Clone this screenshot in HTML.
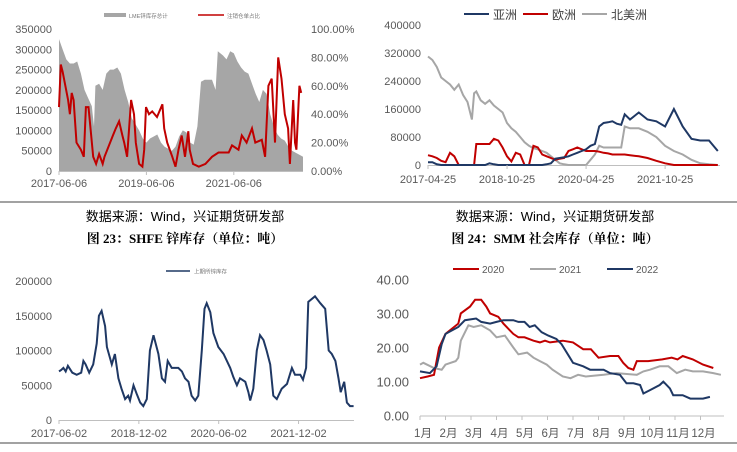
<!DOCTYPE html>
<html><head><meta charset="utf-8"><style>
body{margin:0;background:#fff;width:737px;height:447px;overflow:hidden;font-family:"Liberation Sans","Noto Sans CJK SC",sans-serif}
svg text{font-family:"Liberation Sans","Noto Sans CJK SC",sans-serif}
svg text.ttl{font-family:"Liberation Serif","Noto Serif CJK SC","Noto Sans CJK SC",serif}
</style></head><body>
<svg id="s" width="737" height="447">
<line x1="0" y1="202" x2="737" y2="202" stroke="#444" stroke-width="1"/>
<line x1="0" y1="443" x2="737" y2="443" stroke="#444" stroke-width="1"/>
<text x="185" y="221" text-anchor="middle" font-size="13" fill="#000">数据来源：Wind，兴证期货研发部</text>
<text x="555" y="221" text-anchor="middle" font-size="13" fill="#000">数据来源：Wind，兴证期货研发部</text>
<text class="ttl" x="185" y="243" text-anchor="middle" font-size="13" font-weight="bold" fill="#000">图 23：SHFE 锌库存（单位：吨）</text>
<text class="ttl" x="555" y="243" text-anchor="middle" font-size="13" font-weight="bold" fill="#000">图 24：SMM 社会库存（单位：吨）</text>
</svg>
<script>
// ---------- Chart 1: LME total (area) + cancelled warrant ratio ----------
const c1AreaMonths=[0,1,2,3,4,5,6,7,8,9,9.6,10,11,12,13,14,15,16,17,18,19,20,21,22,23,24,25,26,27,28,29,30,31,32,33,34,35,36,37,38,39,40,41,42,43,43.6,45,46,47,48,49,50,51,52,53,54,55,56,57,58,59,60,61,62,63,64,65,66,67];
const c1AreaValues=[325,300,275,265,265,270,240,200,180,160,110,210,215,200,240,250,250,255,240,200,170,130,115,100,80,70,80,85,90,70,60,55,50,60,85,100,95,70,65,110,220,225,225,225,200,295,285,275,295,290,270,255,245,240,215,190,170,200,190,140,110,90,80,75,60,50,45,40,35];
const c1RedMonths=[0,0.5,1,2.5,3,3.5,4,4.8,6,6.8,7.4,8.1,9.4,10.2,11,12,12.5,14.8,15.6,16.5,17.4,17.9,18.7,19.8,20.6,21.1,22,22.9,23.4,23.9,24.7,25.6,26.9,28.4,28.9,29.7,31.1,32,32.8,33.7,34.6,35.5,35.9,36.8,38.4,40.2,42,43.8,46.6,47.5,49.3,50.2,51.5,53,53.9,55.7,56.6,57.5,58.4,59.3,60.2,61.1,62,62.9,63.4,64.3,64.8,65.2,66,66.5];
const c1RedValues=[45,75,70,50,40,55,50,20,15,10,45,45,10,5,12,5,10,25,30,35,25,20,10,50,40,20,5,3,15,45,40,42,38,47,30,20,10,3,15,25,10,28,15,5,3,5,10,13,13,18,15,25,20,30,20,22,10,60,65,20,80,65,40,30,5,50,20,15,60,55];
const c1LeftTicks=[0,50000,100000,150000,200000,250000,300000,350000];
const c1RightTicks=["0.00%","20.00%","40.00%","60.00%","80.00%","100.00%"];
const c1DateLabels=["2017-06-06","2019-06-06","2021-06-06"];
const c1DateMonths=[0,24,48];

// ---------- Chart 2: SMM regional ----------
const c2Months=[0,1,2,3,4,5,6,7,8,9,10,10.5,11,12,13,14,15,16,17,18,19,20,21,22,23,24,25,26,27,28,29,30,31,32,33,34,35,36,37,38,39,40,41,42,43,44,44.8,46,48,50,52,54,56,58,60,62,64,66];
const c2NorthAmerica=[310,300,280,250,240,230,215,230,200,180,130,205,210,185,175,185,170,160,150,120,105,95,80,65,55,48,45,40,35,25,15,5,2,0,0,0,0,0,15,30,55,50,50,50,50,50,110,105,105,95,80,55,40,30,15,5,2,0];
const c2Asia=[8,8,2,0,0,0,0,0,0,0,0,0,0,0,0,5,2,0,0,0,0,0,0,0,0,0,0,0,2,5,18,20,22,25,30,35,40,45,55,60,110,120,122,125,118,115,145,130,150,130,125,110,160,110,75,70,70,40];
const c2Europe=[28,25,20,12,8,35,25,0,0,0,0,0,60,60,60,60,75,70,50,25,10,35,30,0,0,55,50,30,25,20,15,18,20,40,45,50,45,40,40,40,38,35,33,30,30,30,30,28,25,20,12,5,0,0,0,0,0,0];
const c2Ticks=[0,80000,160000,240000,320000,400000];
const c2DateLabels=["2017-04-25","2018-10-25","2020-04-25","2021-10-25"];
const c2DateMonths=[0,18,36,54];

// ---------- Chart 3: SHFE zinc inventory ----------
const c3Months=[0,0.5,1,1.5,2,3,4,5,5.5,6,6.8,7.7,8.5,9,9.6,10.4,10.8,11.9,12.6,13.4,14.1,14.9,15.6,16,16.8,17.5,18.3,19,19.8,20.5,21.3,22.4,23.2,23.9,24.5,25.4,26.9,27.7,28.4,29.2,29.9,30.7,31.4,32.2,32.8,33.3,34.1,34.8,35.9,37.1,38.6,39.3,40.1,40.8,42,42.7,43.1,43.8,44.6,45.3,46.1,46.8,47.6,48.3,49.1,50.2,51.4,52.5,53.2,54.4,55,55.7,56.2,57.7,58.9,60,60.8,61.5,62.3,63,63.5,64.3,64.9,65.6,66.4];
const c3Values=[70,72,75,70,78,68,65,68,85,80,68,80,110,150,157,135,105,80,95,60,45,30,35,28,50,38,25,20,30,100,122,95,60,55,85,75,75,70,60,55,35,28,35,100,160,168,155,125,105,95,75,62,50,60,55,40,28,45,100,122,115,100,80,35,30,45,52,75,65,65,58,75,170,178,168,160,100,95,85,60,40,55,25,20,20];
const c3Ticks=[0,50000,100000,150000,200000];
const c3DateLabels=["2017-06-02","2018-12-02","2020-06-02","2021-12-02"];
const c3DateMonths=[0,18,36,54];

// ---------- Chart 4: seasonal ----------
const c4MonthLabels=["1月","2月","3月","4月","5月","6月","7月","8月","9月","10月","11月","12月"];
const c4Ticks=[0,10,20,30,40];
const c4T2020=[0,0.3,0.55,0.75,1,1.5,1.6,1.96,2.16,2.4,2.6,2.75,3.07,3.27,3.66,3.86,4.1,4.45,4.7,4.9,5.1,5.6,6,6.4,6.7,7,7.45,7.78,7.97,8.17,8.37,8.5,8.95,9.5,9.87,10.1,10.3,10.7,11.1,11.5];
const c4V2020=[11,11.5,12,20,24,27,30,32,34,34,32,30,29,27,24,23,23,22,21.5,22,21.5,22,21.5,19.5,19.5,17,17.5,17.5,15.5,14,13.5,16,16,16.5,17,16.5,17.5,16.5,15,14];
const c4T2021=[0,0.13,0.55,0.85,1,1.4,1.5,1.6,1.9,2.1,2.4,2.75,3,3.33,3.66,3.86,4.2,4.45,4.7,4.97,5.2,5.6,5.9,6.2,6.5,7.2,7.7,8.5,8.76,9.02,9.4,9.74,10.07,10.4,10.7,11.1,11.5,11.8];
const c4V2021=[15,15.5,14,13.5,15,16,17,22,26.5,26,26.5,25,23,23.5,20,18,18.5,17,16,15,13.5,11.5,11,12,11.5,12,12.5,12,13,13.5,14.5,14.5,12.5,13.5,13,13,12.5,12];
const c4T2022=[0,0.39,0.65,0.85,1,1.5,1.76,2.2,2.4,2.75,3,3.27,3.66,3.86,4.1,4.3,4.5,4.77,5.03,5.35,5.55,5.88,6,6.4,6.67,7.2,7.45,7.84,8.1,8.37,8.63,8.76,9.02,9.4,9.54,9.8,9.93,10.3,10.6,11.1,11.37];
const c4V2022=[13,12.5,14.5,21,24,26,28,28.5,27.5,27,27.5,28,28,27.5,27.5,26,26.5,24.5,23.5,22.5,21,17,15.5,14.5,13.5,13.5,12.5,12,9.5,9.5,9,6.5,7.5,9,10,8,6,6,5,5,5.5];

const NS="http://www.w3.org/2000/svg";
const svg=document.getElementById('s');
function mk(tag,attrs,txt){const e=document.createElementNS(NS,tag);for(const k in attrs)e.setAttribute(k,attrs[k]);if(txt!==undefined)e.textContent=txt;svg.appendChild(e);return e;}
function scale(d0,d1,r0,r1){return v=>r0+(v-d0)/(d1-d0)*(r1-r0);}
function pathOf(xs,ys,fx,fy){return xs.map((x,i)=>(i?'L':'M')+fx(x).toFixed(1)+','+fy(ys[i]).toFixed(1)).join('');}

// Chart 1
{
const fx=scale(0,67,59,303), fyL=scale(0,350,171,29), fyR=scale(0,100,171,29);
let d=pathOf(c1AreaMonths,c1AreaValues,fx,fyL)+'L'+fx(67)+','+fyL(0)+'L'+fx(0)+','+fyL(0)+'Z';
const a=mk('path',{d:d,fill:'#a6a6a6'});


const r=mk('path',{d:pathOf(c1RedMonths,c1RedValues,fx,fyR),fill:'none',stroke:'#c00000','stroke-width':2});


mk('line',{x1:59,y1:171.5,x2:303,y2:171.5,stroke:'#bfbfbf'});
c1LeftTicks.forEach(v=>{const t=mk('text',{x:52,y:fyL(v/1000)+4,'text-anchor':'end','font-size':11,fill:'#595959'},String(v));

});
c1RightTicks.forEach((s,i)=>{const t=mk('text',{x:311,y:fyR(i*20)+4,'font-size':11,fill:'#595959'},s);

});
c1DateLabels.forEach((s,i)=>{mk('line',{x1:fx(c1DateMonths[i]),y1:171,x2:fx(c1DateMonths[i]),y2:175,stroke:'#bfbfbf'});
const t=mk('text',{x:fx(c1DateMonths[i]),y:187,'text-anchor':'middle','font-size':11,fill:'#595959'},s);

});
mk('rect',{x:104,y:13,width:22,height:4,fill:'#a6a6a6'});
const l1=mk('text',{x:129,y:18,'font-size':5.5,fill:'#777'},'LME锌库存总计');


mk('line',{x1:198,y1:15,x2:224,y2:15,stroke:'#c00000','stroke-width':1.5});
const l2=mk('text',{x:227,y:18,'font-size':5.5,fill:'#777'},'注销仓单占比');


}
// Chart 2
{
const fx=scale(0,66.5,428,720), fy=scale(0,400,165,25);
mk('line',{x1:428,y1:165.5,x2:720,y2:165.5,stroke:'#bfbfbf'});
const s=[[c2NorthAmerica,'#a6a6a6','north-america-line'],[c2Europe,'#c00000','europe-line'],[c2Asia,'#1f3864','asia-line']];
s.forEach(([v,c,n])=>{const p=mk('path',{d:pathOf(c2Months,v,fx,fy),fill:'none',stroke:c,'stroke-width':2});

});
c2Ticks.forEach(v=>{const t=mk('text',{x:421,y:fy(v/1000)+4,'text-anchor':'end','font-size':11,fill:'#595959'},String(v));

});
c2DateLabels.forEach((s2,i)=>{mk('line',{x1:fx(c2DateMonths[i]),y1:165,x2:fx(c2DateMonths[i]),y2:169,stroke:'#bfbfbf'});
const t=mk('text',{x:fx(c2DateMonths[i]),y:183,'text-anchor':'middle','font-size':11,fill:'#595959'},s2);

});
[[464,'#1f3864','亚洲'],[523,'#c00000','欧洲'],[582,'#a6a6a6','北美洲']].forEach(([x,c,s2])=>{mk('line',{x1:x,y1:14,x2:x+25,y2:14,stroke:c,'stroke-width':2});
const t=mk('text',{x:x+29,y:19,'font-size':12,fill:'#404040'},s2);

});
}
// Chart 3
{
const fx=scale(0,66.5,59,354), fy=scale(0,200,420,281);
mk('line',{x1:59,y1:420.5,x2:354,y2:420.5,stroke:'#bfbfbf'});
const p=mk('path',{d:pathOf(c3Months,c3Values,fx,fy),fill:'none',stroke:'#1f3864','stroke-width':2});


c3Ticks.forEach(v=>{const t=mk('text',{x:52,y:fy(v/1000)+4,'text-anchor':'end','font-size':11,fill:'#595959'},String(v));

});
c3DateLabels.forEach((s2,i)=>{mk('line',{x1:fx(c3DateMonths[i]),y1:420,x2:fx(c3DateMonths[i]),y2:424,stroke:'#bfbfbf'});
const t=mk('text',{x:fx(c3DateMonths[i]),y:437,'text-anchor':'middle','font-size':11,fill:'#595959'},s2);

});
mk('line',{x1:166,y1:271,x2:190,y2:271,stroke:'#1f3864','stroke-width':1.5});
const t=mk('text',{x:194,y:273.5,'font-size':5.5,fill:'#777'},'上期所锌库存');


}
// Chart 4
{
const fx=scale(0,12,420,726), fy=scale(0,40,415.7,279.3);
mk('line',{x1:420,y1:416,x2:724,y2:416,stroke:'#bfbfbf'});
[[c4T2021,c4V2021,'#a6a6a6','line-2021'],[c4T2020,c4V2020,'#c00000','line-2020'],[c4T2022,c4V2022,'#1f3864','line-2022']].forEach(([t,v,c,n])=>{
const p=mk('path',{d:pathOf(t,v,fx,fy),fill:'none',stroke:c,'stroke-width':2});

});
c4Ticks.forEach(v=>{const t=mk('text',{x:409,y:fy(v)+5,'text-anchor':'end','font-size':13,fill:'#595959'},v.toFixed(2));

});
c4MonthLabels.forEach((s2,i)=>{mk('line',{x1:fx(i),y1:416,x2:fx(i),y2:420,stroke:'#bfbfbf'});
const t=mk('text',{x:fx(i)+3,y:437,'text-anchor':'middle','font-size':11.5,fill:'#595959'},s2);

});
[[453,'#c00000','2020'],[530,'#a6a6a6','2021'],[607,'#1f3864','2022']].forEach(([x,c,s2])=>{mk('line',{x1:x,y1:269,x2:x+26,y2:269,stroke:c,'stroke-width':2});
const t=mk('text',{x:x+29,y:273,'font-size':10,fill:'#595959'},s2);

});
}
</script>
</body></html>
